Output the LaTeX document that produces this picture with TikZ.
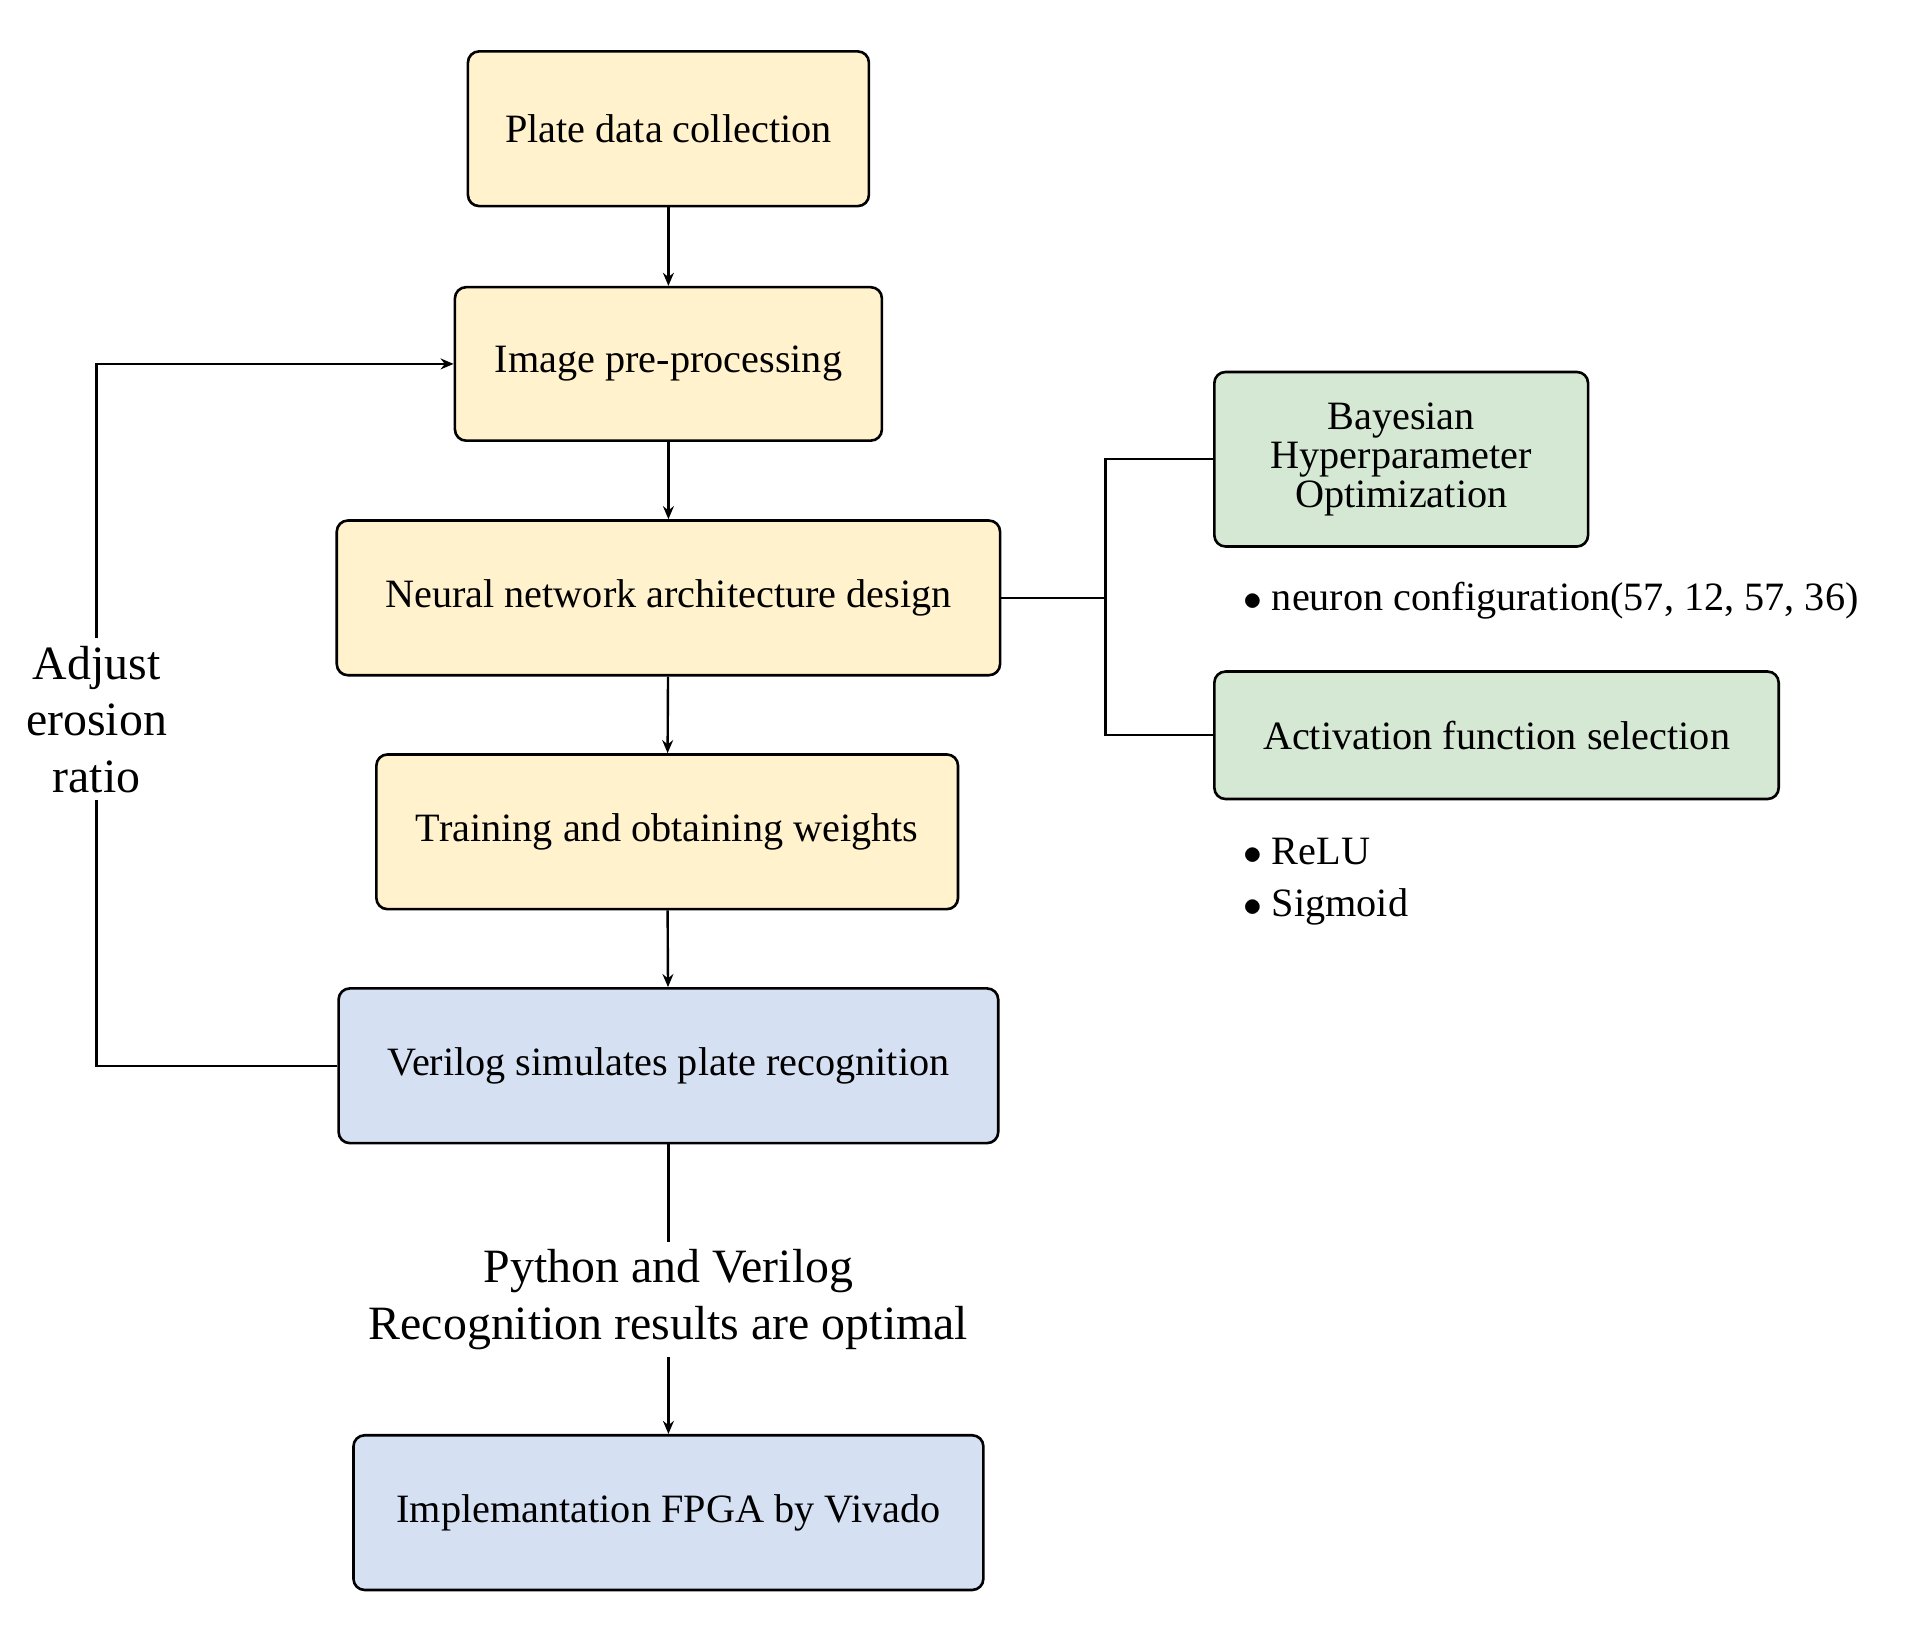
\documentclass[tikz,border=0pt]{standalone}
\usepackage{fontspec}
\setmainfont{Liberation Serif}
\usetikzlibrary{arrows.meta}
\begin{document}
\begin{tikzpicture}[x=0.02cm,y=-0.02cm,
 box/.style={draw,line width=1.2pt,rounded corners=0.18cm,font=\fontsize{18.5}{21}\selectfont,align=center,inner sep=0pt},
 yel/.style={box,fill={rgb,255:red,255;green,242;blue,204}},
 grn/.style={box,fill={rgb,255:red,213;green,232;blue,212}},
 blu/.style={box,fill={rgb,255:red,214;green,224;blue,243}},
 ar/.style={-{Stealth[length=6pt,width=5pt]},line width=1.1pt},
 ln/.style={line width=1.1pt}]
\useasboundingbox (0,0) rectangle (1560,1322);
\node[yel,minimum width=6.48cm,minimum height=2.5cm] (a) at (540,104) {Plate data collection};
\node[yel,minimum width=6.9cm,minimum height=2.48cm] (b) at (540,294) {Image pre-processing};
\node[yel,minimum width=10.72cm,minimum height=2.5cm] (c) at (540,483) {Neural network architecture design};
\node[yel,minimum width=9.4cm,minimum height=2.5cm] (d) at (539,672) {Training and obtaining weights};
\node[blu,minimum width=10.66cm,minimum height=2.5cm] (e) at (540,861) {Verilog simulates plate recognition};
\node[blu,minimum width=10.18cm,minimum height=2.5cm] (f) at (540,1222) {Implemantation FPGA by Vivado};
\node[grn,minimum width=6.04cm,minimum height=2.82cm] (g) at (1132,371) {Bayesian\\[-3pt] Hyperparameter\\[-3pt] Optimization};
\node[grn,minimum width=9.12cm,minimum height=2.06cm] (h) at (1209,594) {Activation function selection};
\node[anchor=west,font=\fontsize{18.5}{21}\selectfont] (n1) at (998,485) {$\bullet$ neuron configuration(57, 12, 57, 36)};
\node[anchor=west,font=\fontsize{18.5}{21}\selectfont] (n2) at (998,688) {$\bullet$ ReLU};
\node[anchor=west,font=\fontsize{18.5}{21}\selectfont] (n3) at (998,733) {$\bullet$ Sigmoid};
\node[font=\fontsize{22}{26}\selectfont,align=center] (adj) at (78,581) {Adjust\\erosion\\ratio};
\node[font=\fontsize{22}{26}\selectfont,align=center] (py) at (540,1050) {Python and Verilog\\Recognition results are optimal};
\draw[ar] (a) -- (b);
\draw[ar] (b) -- (c);
\draw[ar] (c) -- (d);
\draw[ar] (d) -- (e);
\draw[ln] (e) -- (py);
\draw[ar] (py) -- (f);
\coordinate (br) at (893,483);
\draw[ln] (c.east) -- (br);
\draw[ln] (g.west) -| (br) |- (h.west);
\draw[ln] (e.west) -| (adj.south);
\draw[ar] (adj.north) |- (b.west);
\end{tikzpicture}
\end{document}
